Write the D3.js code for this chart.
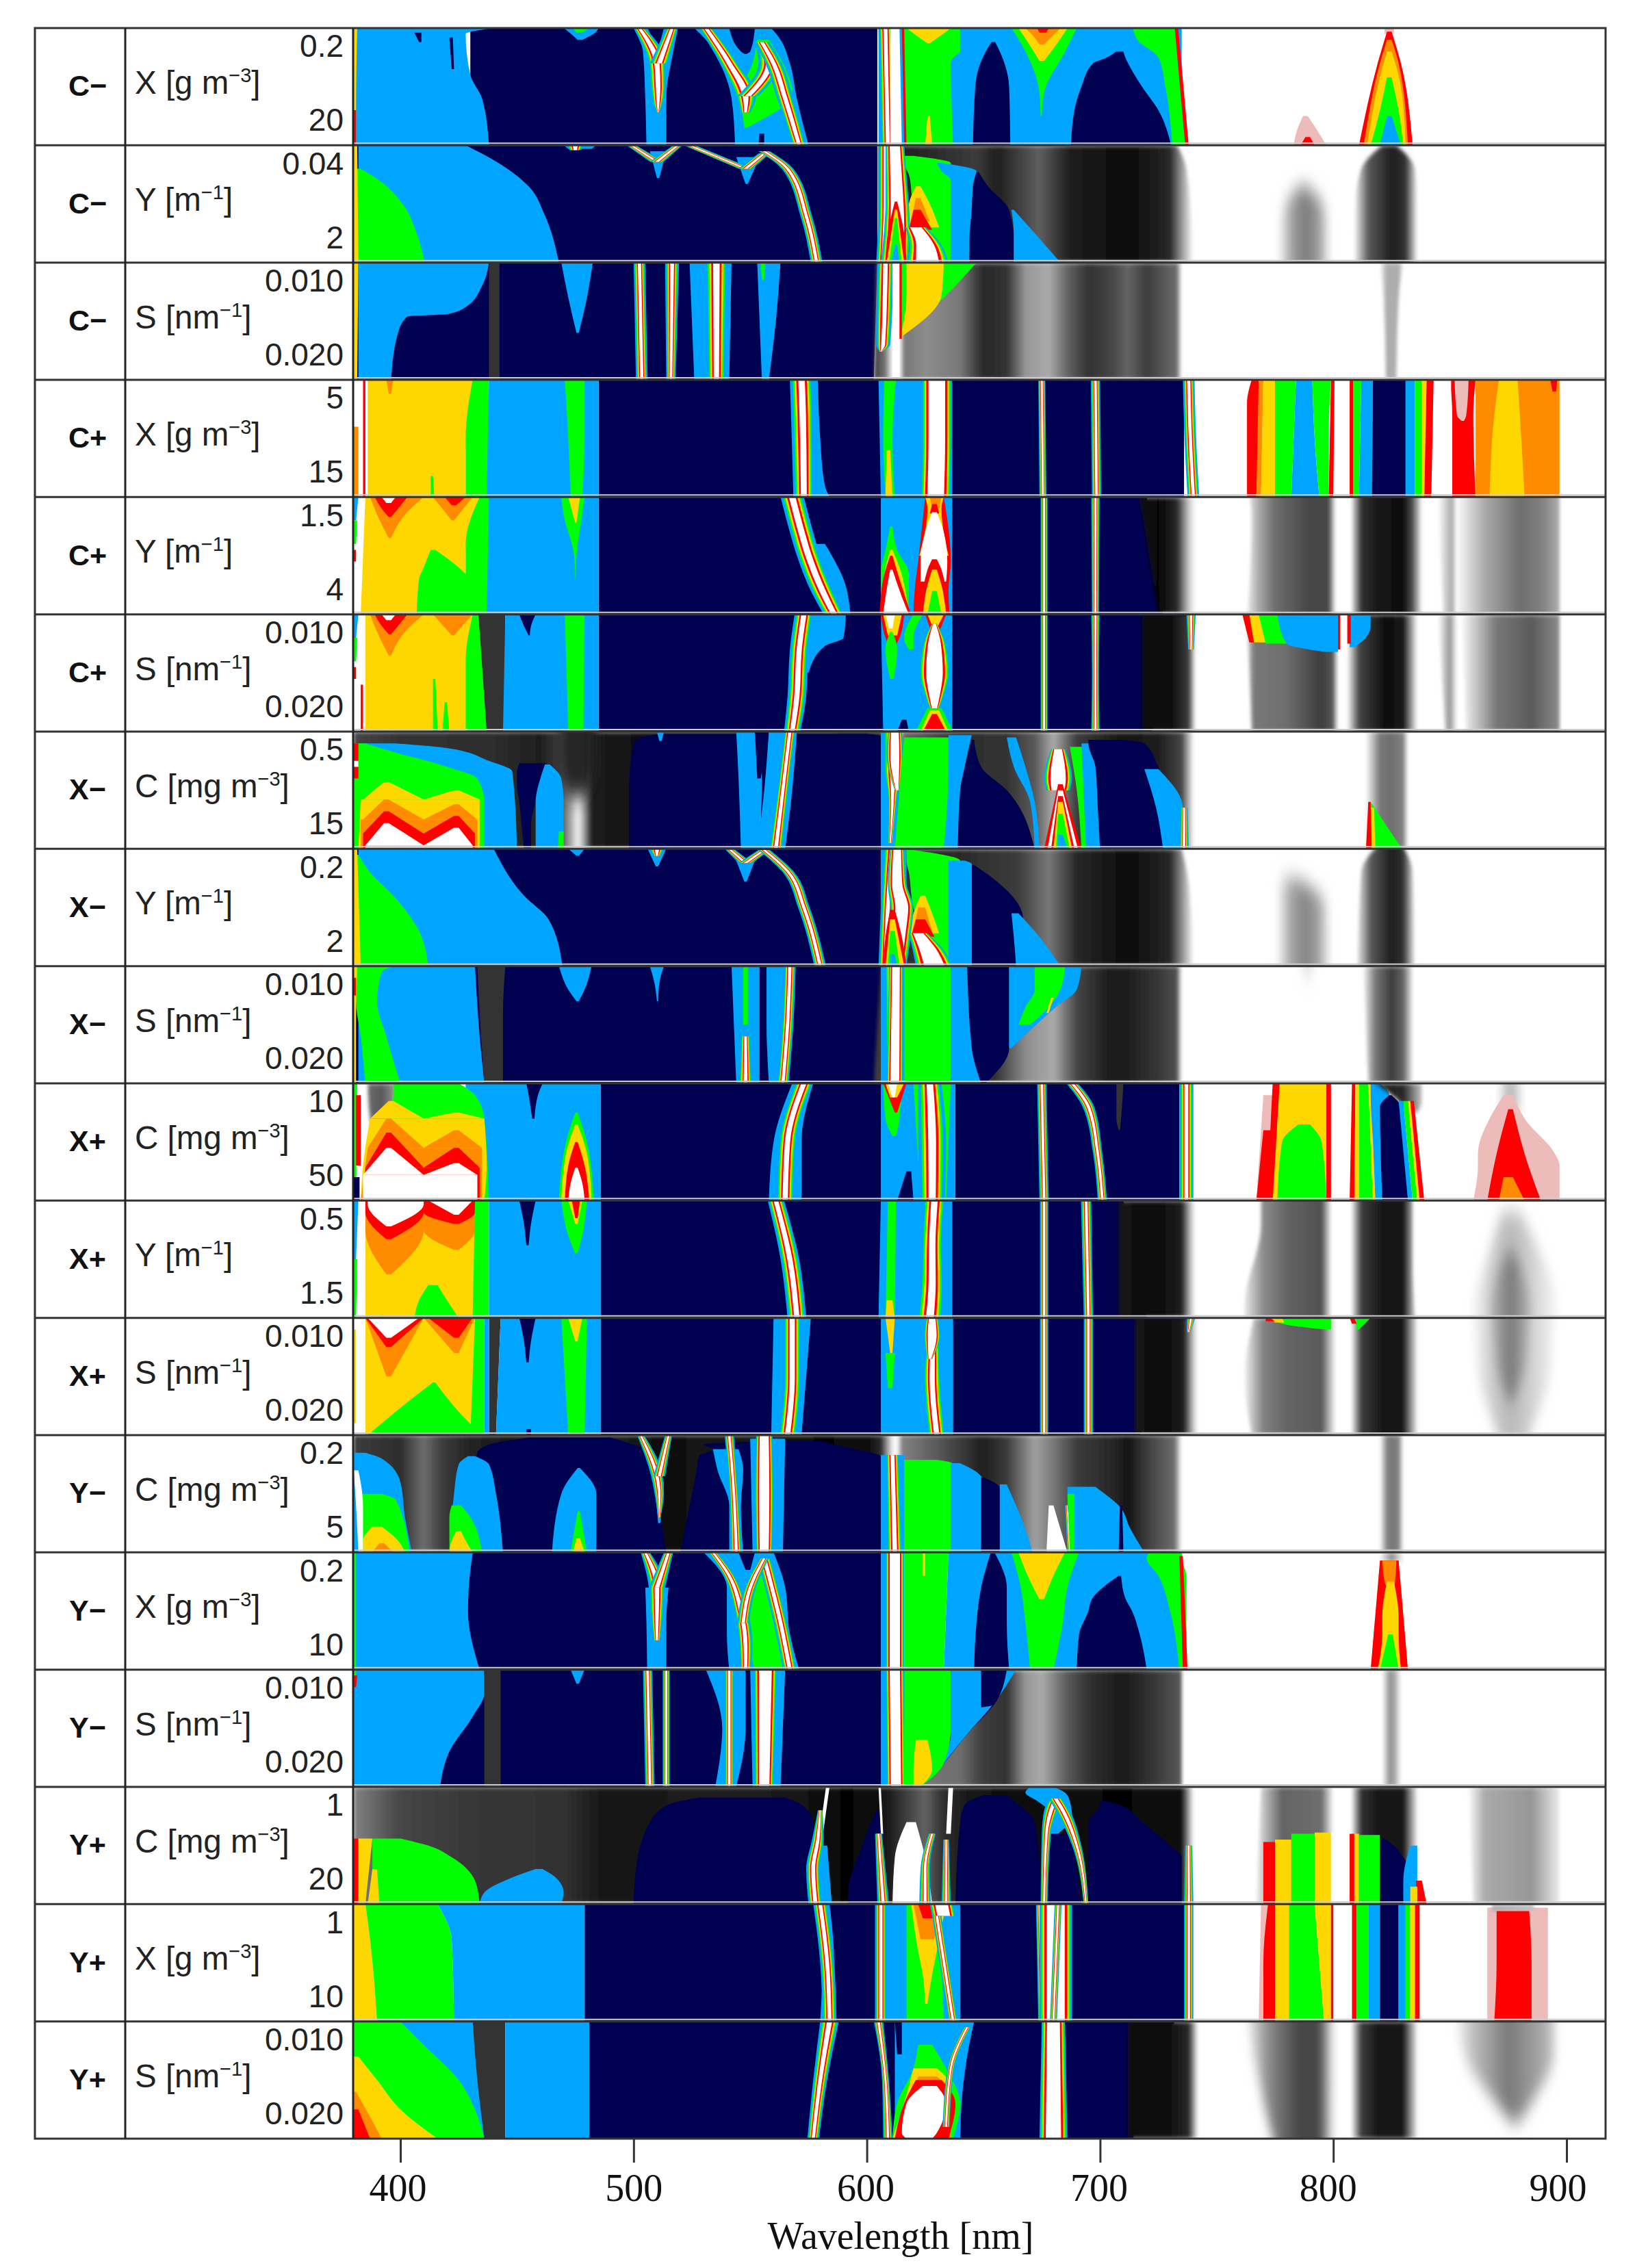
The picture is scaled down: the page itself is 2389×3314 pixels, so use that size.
<!DOCTYPE html>
<html>
<head>
<meta charset="utf-8">
<script src="https://cdnjs.cloudflare.com/ajax/libs/d3/7.8.5/d3.min.js"></script>
<style>
body { margin: 0; background: #fff; }
</style>
</head>
<body>
<div id="chart-section"></div>
<script>
// labels ----------------------------------------------------------------
var groupLabels = ["C−","C−","C−","C+","C+","C+","X−","X−","X−","X+","X+","X+","Y−","Y−","Y−","Y+","Y+","Y+"];
var varNames = ["X [g m","Y [m","S [nm","X [g m","Y [m","S [nm","C [mg m","Y [m","S [nm","C [mg m","Y [m","S [nm","C [mg m","X [g m","S [nm","C [mg m","X [g m","S [nm"];
var varPowers = ["−3","−1","−1","−3","−1","−1","−3","−1","−1","−3","−1","−1","−3","−3","−1","−3","−3","−1"];
var tickHigh = ["0.2","0.04","0.010","5","1.5","0.010","0.5","0.2","0.010","10","0.5","0.010","0.2","0.2","0.010","1","1","0.010"];
var tickLow = ["20","2","0.020","15","4","0.020","15","2","0.020","50","1.5","0.020","5","10","0.020","20","10","0.020"];
var wavelengthTicks = [400,500,600,700,800,900];
var tickLabelShift = [-4,0,-2,-2,-8,-13];

// band colours: n navy, b blue, g green, y gold, o orange, r red, w white, p pink, d dark grey
// rows are [t, wl left, wl right]; t runs 0..1 down the panel
// R and W are ridges, rows [t, wl centre, half width]; K and F are grey bands with [wl, grey] stops

var panelCmX = [
 ["n",[[0,430,604.5],[1,430,604.5]]],
 ["b",[[0,380,440],[.05,380,428],[.4,380,430],[.6,380,435],[1,380,438]]],
 ["n",[[.04,406,409],[.12,408,409]]],["n",[[.08,421,422.5],[.35,422,423]]],
 ["y",[[0,380,381.5],[.7,380,381],[1,380,381]]],["r",[[.7,380,381],[1,380,381]]],
 ["b",[[0,470,485],[.03,472,484],[.1,476,478]]],["g",[[0,474,481],[.04,475.5,478]]],
 ["b",[[0,500,519],[.2,504,517],[.6,505,514],[1,505.5,514]]],
 ["n",[[0,506,513],[.15,509.5,511]]],
 ["R",[[0,502.5,2.5],[.3,510,4],[.5,510.5,3.5],[.65,510.5,2],[.72,510.5,.4]]],
 ["R",[[0,516.5,2.5],[.3,511,4]]],
 ["b",[[0,526,559],[.1,531,563],[.3,537,567],[.6,542,570],[1,543.5,575]]],
 ["n",[[0,541,552],[.2,546,550],[.22,547.5,548.5]]],
 ["n",[[.9,554,556],[1,553.5,556]]],
 ["g",[[.1,553,558],[.3,551,564],[.55,546,568],[.85,547.5,548.5]]],
 ["R",[[0,531,3],[.3,541,4],[.58,548,4.5],[.72,548,2]]],
 ["R",[[.12,555,3],[.3,558,4.5],[.58,549,4.5]]],
 ["R",[[.12,555,3],[.3,560,3.5],[.6,565,3.5],[1,571,3]]],
 ["b",[[0,605,647],[1,605,645]]],
 ["g",[[0,616,655],[.1,616,648],[.3,616,636],[1,616,637]]],
 ["y",[[0,617,636],[.06,621,632],[.13,626,627]]],
 ["R",[[0,608,3],[1,609,3]]],
 ["w",[[0,610,614],[1,610,615]]],["r",[[0,615,616],[1,616,617]]],
 ["y",[[.75,626,627],[1,625,628]]],
 ["b",[[0,640,735],[1,640,735]]],
 ["n",[[.12,653.5,655],[.2,651,657],[.5,646.5,661],[1,645.5,661.5]]],
 ["g",[[0,662,690],[.2,668,685],[.55,674,676],[.75,674.5,675]]],
 ["y",[[0,665,686],[.12,669,682],[.28,674,676]]],
 ["o",[[0,668,683],[.06,671,680],[.14,674,676]]],
 ["r",[[0,673,678],[.04,674,677]]],
 ["n",[[.2,707,710],[.26,702,711],[.3,697,712],[.5,692,718],[.7,689,725],[1,687.5,730.5]]],
 ["g",[[0,714,732],[.1,716,733],[.25,725,734],[.5,728,735.5],[1,731,736.5]]],
 ["r",[[0,732,733.5],[1,736.5,738]]],
 ["p",[[.75,787,789],[.9,784,794],[1,783,797]]],["r",[[.93,788,790],[1,786,792]]],
 ["p",[[0,822,826],[.05,822,826]]],
 ["r",[[.03,823,825],[.3,819,829],[1,811,834]]],
 ["o",[[.1,823,825],[.3,820,828],[1,813,832]]],
 ["y",[[.2,823,825],[.5,819,829],[1,814.5,831]]],
 ["g",[[.42,823,825],[.7,820,828],[1,816,830]]],
 ["b",[[.75,823,825],[1,820,829]]]
];

var panelCmY = [
 ["n",[[0,380,604.5],[1,380,604.5]]],
 ["K",[[0,605,733],[.2,605,737],[1,605,740]],[[605,40],[615,30],[647,60],[656,30],[674,95],[687,30],[712,10],[730,40],[735,150],[740,255]]],
 ["b",[[0,382,428],[.15,382,442],[.35,382,455],[.6,382,462],[1,382,468]]],
 ["g",[[.2,380,383],[.3,380,391],[.5,380,401],[.75,380,407],[1,380,410.5]]],
 ["y",[[0,380,381.5],[1,380,382]]],
 ["b",[[0,470,484],[.03,472,482]]],["R",[[0,475,4],[.04,475,2.5]]],
 ["b",[[.05,507,514],[.28,510,511]]],
 ["R",[[0,499,2],[.14,510,3]]],["R",[[0,519,2],[.14,510,3]]],
 ["b",[[.1,544,554],[.33,548,549]]],
 ["R",[[0,524,2.5],[.2,548,3]]],["R",[[.07,556,2.5],[.2,548,3]]],
 ["R",[[.05,556,2.5],[.2,566,2.5],[.6,574,2.5],[1,578.5,2.5]]],
 ["b",[[.02,605,616],[1,605,617]]],
 ["g",[[.09,616,620],[.15,616,636],[.25,618,636.5],[.5,620,637],[.7,625,637],[1,634,637]]],
 ["b",[[.15,630,632],[.22,632,647],[.3,636,646],[1,636,644]]],
 ["n",[[.23,647,648],[.35,645.5,652],[.55,645,661],[.8,644,663],[1,644,663]]],
 ["b",[[.55,662,663],[.75,663,672],[1,663,683]]],
 ["y",[[.35,621,623],[.5,618,627],[.7,617,631]]],["o",[[.45,621,623],[.65,619,627]]],["r",[[.55,620,623],[.72,618,628]]],
 ["R",[[0,608,3],[.5,608,3],[1,607,3]]],
 ["W",[[0,612,4],[.25,612.5,4.5],[.5,613,5],[.7,613,5.5],[1,612,6]]],
 ["r",[[.48,612,613],[.75,609,616],[1,608,617]]],
 ["y",[[.55,612,613],[1,608.5,616]]],["g",[[.62,612,613],[1,609.5,615]]],["b",[[.85,612,613],[1,610.5,614]]],
 ["W",[[.7,621,4.5],[.85,625,7],[1,626,9]]],
 ["F",[[.35,786,788],[.5,779,796],[.7,777.5,798],[1.3,777.5,798]],[[777,250],[781,170],[788,120],[795,165],[798,250]]],
 ["K",[[0,821,827],[.2,812,835],[.5,809.5,836],[1.3,809,836]],[[809,245],[815,90],[825,30],[831,50],[836,245]]]
];

var panelCmS = [
 ["n",[[0,380,604.5],[1,380,603]]],
 ["K",[[0,604,735],[1,603,735]],[[603,60],[608,120],[611,250],[614,250],[616,120],[625,140],[640,120],[650,40],[660,50],[668,150],[678,170],[686,100],[695,50],[705,70],[712,100],[720,60],[728,90],[733,110],[735,255]]],
 ["b",[[0,382,438],[.2,382,435],[.38,382,428],[.44,382,420],[.46,382,403],[.6,382,399],[1,382,396]]],
 ["d",[[0,438,442.5],[1,438,442.5]]],
 ["y",[[0,380,382],[1,380,381.5]]],
 ["b",[[0,469,482.5],[.3,472,480],[.6,475.5,476.5]]],
 ["R",[[0,502.5,2.5],[1,503.5,2.5]]],["R",[[0,516.5,3],[1,516,2]]],
 ["b",[[0,524,542],[1,526,541]]],["R",[[0,535.5,5],[1,535.5,4]]],
 ["b",[[0,553,563],[.5,554,561],[1,555,558]]],["g",[[0,554.5,556.5],[.15,555,556]]],
 ["g",[[0,615,647],[.28,615,634],[.63,614,615]]],
 ["y",[[0,617,633],[.28,617,632],[.63,614.5,615]]],
 ["R",[[0,608,3.5],[.7,607,3],[.76,606,.5]]],
 ["w",[[0,611,614],[1,611,614]]],["r",[[0,614,615],[.65,614,615]]],
 ["K",[[0,820,830],[.3,821.5,828],[1,822.5,827]],[[820,250],[823,170],[825,175],[828,170],[830,250]]]
];

var panelCpX = [
 ["n",[[0,485,736],[1,485,736]]],
 ["r",[[0,384,385],[1,384,385]]],
 ["o",[[.4,380,382],[1,380,382]]],
 ["y",[[0,386,431],[.5,386,431],[.6,386,428],[1,386,428]]],
 ["o",[[0,394,397],[.12,395,396]]],
 ["g",[[.82,413,414],[1,413,414.5]]],
 ["g",[[0,431,438],[.5,428,438],[1,428,437]]],
 ["b",[[0,438,485],[1,437,485]]],
 ["g",[[0,470.5,479],[.5,472,479],[1,473,478]]],
 ["b",[[0,570,579],[.5,570,580],[.9,570,582],[1,570,584]]],
 ["R",[[0,572,5],[.3,572.5,5],[1,573,4.5]]],
 ["b",[[0,605,636.6],[1,606,636.6]]],
 ["g",[[0,607.5,612.5],[.5,607,611],[1,608,612]]],
 ["y",[[.6,608.5,610],[1,608,611]]],
 ["W",[[0,630,6.5],[.5,630,6.5],[1,629.5,6.5]]],
 ["R",[[0,675,1.5],[1,675.5,1.5]]],["R",[[0,698,2],[1,698.5,2]]],
 ["R",[[0,738,2.5],[.4,738.5,2.5],[1,740,2.5]]],
 ["r",[[0,765,768],[.2,763,768],[1,763,767]]],
 ["o",[[0,768,770],[1,767,769]]],["y",[[0,770,775],[1,769,775]]],
 ["g",[[0,775,784],[.5,775,783],[1,775,782]]],
 ["b",[[0,784,791],[.5,783,792],[1,782,794]]],
 ["g",[[0,791,799],[.5,792,798],[1,794,798]]],
 ["r",[[0,799,800.5],[1,798,800]]],
 ["r",[[0,807,808.5],[1,807,808.5]]],["g",[[0,808.5,812],[1,808.5,811]]],
 ["b",[[0,812,817],[1,811,816.5]]],
 ["n",[[0,817,831],[1,816.5,831]]],
 ["b",[[0,831,835],[1,831,835]]],["g",[[0,835,838],[1,835,838]]],["y",[[0,838,840],[1,838,839]]],["r",[[0,840,843],[1,839,842]]],
 ["r",[[0,850,861],[.3,851,860],[1,851,861]]],
 ["w",[[0,844,850.5],[1,843,850.5]]],
 ["p",[[0,852,858],[.3,853,857],[.35,855,856]]],
 ["o",[[0,861,897],[1,861,897]]],
 ["y",[[0,871,879],[.3,869,880],[1,867,882]]],
 ["r",[[0,893,896],[.1,894,895.5]]]
];

var panelCpY = [
 ["n",[[0,485,720],[1,485,727]]],
 ["K",[[0,717,742],[1,725,742]],[[717,20],[725,5],[733,40],[738,200],[741,255]]],
 ["b",[[0,380,382],[.2,380,381]]],["g",[[.2,380,381.5],[.4,380,381]]],["r",[[.45,380,381],[.55,380,381]]],
 ["y",[[0,385,434],[.5,384,428],[1,383,428]]],
 ["o",[[0,387,410],[.15,390,402],[.35,395,396]]],["r",[[0,389,403],[.1,392,399],[.17,395,396]]],["w",[[0,392,398],[.05,394,396]]],
 ["o",[[0,414,431],[.2,422,423]]],["r",[[0,419,428],[.07,422,424]]],
 ["g",[[.45,413,415],[.6,410,425],[.7,408,430],[1,407,435]]],
 ["g",[[0,434,438.5],[.4,428,438],[1,428,438]]],
 ["b",[[0,438,485],[1,437,485]]],
 ["g",[[0,469,479],[.15,470,478],[.5,474.5,475.5],[.7,475,475.2]]],["y",[[0,472,477],[.15,474,476],[.22,475,475.5]]],
 ["b",[[.4,574,582],[.5,576,585],[.7,580,590],[1,585,593]]],
 ["g",[[.6,578,581],[.8,583,586],[1,586,589]]],
 ["R",[[0,568,5],[.3,572,5],[.5,575,5],[.8,581,5],[1,586,4.5]]],
 ["b",[[0,606,636.6],[1,606,636.6]]],
 ["g",[[.25,610,611],[.45,608,613],[.65,606,618],[1,606,618]]],
 ["y",[[.45,610,611],[.6,608,614],[1,606,618]]],
 ["r",[[.5,610,611],[.7,607,614],[1,605.5,619]]],
 ["w",[[.62,610,611],[.85,608,615],[1,607,618]]],
 ["r",[[0,625,633],[.55,622,636],[.8,620.5,635],[1,620,635.5]]],
 ["y",[[0,625,633],[.1,626,632],[.5,622.5,635]]],
 ["o",[[0,627,632],[.1,628,631]]],["r",[[.06,628,630],[.14,627,631]]],
 ["w",[[.13,628,630],[.3,625,633],[.55,623,634.5],[.72,623,634]]],
 ["r",[[.53,628,630],[.62,626,632],[1,623,635]]],
 ["y",[[.62,628,630],[.75,626,632],[1,624,634]]],["g",[[.8,628,630],[1,626,632]]],
 ["R",[[0,676,1.5],[1,676,1.5]]],["R",[[0,698,1.8],[1,698,1.5]]],
 ["K",[[-.2,763,801],[.2,765,801],[1.3,762,801]],[[762,250],[768,170],[775,110],[790,70],[798,70],[801,250]]],
 ["K",[[-.2,808,838],[1.3,808,838]],[[808,220],[812,50],[820,20],[830,15],[834,80],[838,250]]],
 ["K",[[-.2,845,853],[.5,846,853],[1.3,848,853]],[[845,250],[851,170],[853,250]]],
 ["K",[[-.2,853,897],[1.3,853,897]],[[853,250],[865,170],[880,110],[890,130],[897,175]]]
];

var panelCpS = [
 ["n",[[0,485,739],[.3,485,738],[1,485,722]]],
 ["K",[[0,718,742],[1,718,742]],[[718,10],[730,10],[738,60],[741,255]]],
 ["b",[[0,380,382],[.2,380,381]]],["g",[[.2,380,381.5],[.4,380,381]]],["r",[[.45,380,381],[.55,380,381]]],
 ["r",[[.6,383,384],[1,383,384]]],
 ["y",[[0,385,433],[1,385,429]]],
 ["o",[[0,387,410],[.15,390,402],[.35,395,396]]],["r",[[0,389,403],[.1,392,399],[.17,395,396]]],["w",[[0,392,398],[.05,394,396]]],
 ["o",[[0,414,431],[.18,422,423]]],
 ["g",[[0,431,436],[.4,428,437],[1,428,438]]],
 ["g",[[.55,414,415],[1,414,416]]],["g",[[.75,419,420],[1,418,421]]],
 ["d",[[0,433.5,445],[1,437,445]]],
 ["b",[[0,445,485],[1,444,485]]],
 ["n",[[0,451,458],[.1,453,456],[.18,455,455.5]]],
 ["g",[[0,470.5,479],[1,472,478.5]]],
 ["b",[[0,570,591],[.2,570,590],[.27,570,582],[.5,570,575]]],
 ["R",[[0,573,4],[.3,571,4],[.7,570,4],[1,568,3.5]]],
 ["b",[[0,606,636.6],[1,607,636.6]]],
 ["r",[[0,606,616],[.2,608,614],[.3,610,611]]],["y",[[0,607,615],[.18,609,613]]],
 ["w",[[0,608,612],[.12,609.5,611]]],
 ["g",[[.15,610,611],[.3,608,613],[.55,610,611.5]]],
 ["n",[[.9,615,617],[1,613,618]]],
 ["g",[[0,620,624],[.2,616,620],[.3,618,620]]],
 ["r",[[0,625,634],[.2,628.5,630]]],["y",[[0,626,633],[.12,628.5,630]]],
 ["W",[[.08,629,1],[.25,629,5],[.5,629,6.5],[.7,629,4],[.85,629,1]]],
 ["g",[[.8,626,632],[1,621,637]]],["y",[[.82,627,631],[1,623,635]]],["r",[[.85,628,630],[1,624,634]]],
 ["R",[[0,676,1.5],[1,676,1.5]]],["R",[[0,698,1.8],[.5,698,1.5],[1,698,1.8]]],
 ["R",[[0,739,2],[.3,739,1.2]]],
 ["K",[[0,763,802],[1,765,802]],[[762,250],[766,120],[780,110],[795,60],[800,90],[802,250]]],
 ["K",[[0,806,836],[1,806,836]],[[806,250],[811,70],[822,15],[830,20],[836,250]]],
 ["K",[[0,845,853],[1,848,853]],[[845,250],[850,150],[853,250]]],
 ["K",[[0,855,897],[1,857,897]],[[855,250],[870,120],[885,90],[897,140]]],
 ["r",[[0,761,765],[.24,764,768]]],["y",[[0,764,771],[.24,766,773]]],["g",[[0,768,777],[.25,771,780]]],
 ["b",[[0,776,802],[.25,780,802],[.32,796,802]]],
 ["w",[[0,802,806],[.35,802,806]]],
 ["r",[[0,802,803],[.3,802,803]]],
 ["b",[[0,807,816],[.1,807,816],[.22,807,813],[.28,807,809]]],["r",[[0,806,807.5],[.25,806,807.5]]]
];

var panelXmC = [
 ["K",[[0,380,740],[1,380,740]],[[380,70],[400,50],[440,45],[460,30],[468,60],[474,190],[476,240],[478,190],[482,30],[495,20],[510,10],[560,10],[600,5],[606,30],[611,200],[613,240],[616,100],[640,45],[660,50],[672,90],[680,170],[690,60],[710,20],[725,30],[735,70],[740,250]]],
 ["F",[[-.3,468,484],[.3,468,484],[.55,472,480]],[[468,40],[476,40],[484,30]]],
 ["n",[[.02,512,600],[.04,505,606],[.1,500,606],[.5,498,606],[1,498,606]]],
 ["b",[[.1,382,398],[.14,382,420],[.25,382,438],[.34,382,448],[1,382,450]]],
 ["g",[[.1,380,385],[.15,380,393],[.3,380,420],[.4,380,433],[.6,380,436],[1,380,436]]],
 // wave: left lump, right lump, body for each level
 ["y",[[.43,393,395],[.58,384,410]]],["y",[[.5,423,425],[.58,410,434]]],["y",[[.58,383,434],[1,382,434]]],
 ["o",[[.58,393,395],[.75,384,410]]],["o",[[.62,423,425],[.75,410,433]]],["o",[[.75,383,433],[1,383,433]]],
 ["r",[[.68,393,395],[.87,384,410]]],["r",[[.72,423,425],[.87,410,432]]],["r",[[.87,384,432],[1,384,432]]],
 ["w",[[.78,393,395],[.97,385,410]]],["w",[[.82,423,425],[.97,410,431]]],["w",[[.97,385,431],[1,385,431]]],
 ["r",[[.1,380,382],[.4,380,382]]],["w",[[.25,380,382],[.3,380,382]]],
 ["n",[[.27,451,462],[.35,450,465],[.45,450,460],[.6,451,458],[.8,452,456],[1,453,456]]],
 ["b",[[.28,462,464],[.4,460,469],[.6,458,470],[1,458,470]]],
 ["g",[[.85,468,470],[1,467.5,470]]],
 ["b",[[0,510,513],[.08,511,512]]],
 ["b",[[0,544,554],[.4,545,555],[1,546,554]]],
 ["n",[[0,552,558],[.4,553,554.5]]],
 ["b",[[0,558,570],[.5,556,568],[1,553,565]]],
 ["R",[[0,567,2.5],[.5,564,2.5],[1,561,3]]],
 ["b",[[0,606,612],[1,606,616]]],
 ["R",[[0,611,4],[.3,611,4],[.6,611,2],[.95,610,1]]],
 ["W",[[0,612,3],[.2,612,3.5],[.5,613,1]]],
 ["g",[[.05,616,635],[.5,614,635],[1,612,633]]],
 ["b",[[.03,635,645],[.3,635,642],[1,633,639]]],
 ["n",[[.07,645,646],[.3,642,649],[.5,640,660],[1,639,672]]],
 ["b",[[.05,660,664],[.3,663,668],[.6,670,672],[1,672,674]]],
 ["W",[[.15,682,3],[.4,682,6],[.5,682,5]]],
 ["r",[[.45,682,684],[1,676,692]]],["w",[[.5,682,684],[1,677.5,690.5]]],
 ["r",[[.55,682,684],[1,679,689]]],["y",[[.6,682,684],[1,680,688]]],["g",[[.7,682,684],[1,681,687]]],["b",[[.88,682,684],[1,682,686]]],
 ["g",[[.13,687,695],[.5,690,695],[1,692,695]]],
 ["b",[[.1,692,700],[1,694,700]]],
 ["n",[[.07,695,710],[.1,695,719],[.3,698,725],[.65,699,734],[1,700,727]]],
 ["b",[[.32,719,725],[.65,724,735.5],[1,727,735.5]]],
 ["R",[[.65,736,1.5],[1,736,2]]],
 ["K",[[0,814,832],[1,814,832]],[[814,250],[820,120],[825,110],[830,130],[832,250]]],
 ["g",[[.6,815,816],[1,816,829.5]]],["y",[[.65,816,817.5],[1,816.5,818]]],["r",[[.6,815,816],[1,814,816.5]]]
];

var panelXmY = [
 ["n",[[0,380,606],[1,380,606]]],
 ["K",[[0,606,735],[.3,606,738],[1,606,740]],[[606,50],[640,40],[650,50],[665,60],[678,120],[690,40],[712,10],[730,40],[735,140],[740,250]]],
 ["b",[[0,382,440],[.4,382,453],[.6,382,463.5],[1,382,469.5]]],
 ["g",[[.05,380,382],[.2,380,387],[.4,380,397],[.7,380,408],[1,380,412]]],
 ["y",[[0,380,381.5],[1,380,383]]],
 ["b",[[0,472,479],[.06,475.5,476.5]]],
 ["b",[[0,506,514],[.15,509.5,510.5]]],["R",[[0,510,3.5],[.06,510,1.5]]],
 ["b",[[.1,544,552],[.28,547.5,548.5]]],
 ["R",[[0,541,2],[.12,548,3]]],["R",[[.01,556,2.5],[.12,548,3]]],
 ["R",[[.01,556,2.5],[.2,566.4,2.5],[.5,573,2.5],[1,580,2.5]]],
 ["b",[[0,606,617],[1,606,617]]],
 ["g",[[.01,617,620],[.1,617,640],[.2,618,640],[.5,620,637],[.9,632,636],[1,634,636]]],
 ["b",[[.1,635,642],[.13,635,645],[1,635,645]]],
 ["n",[[.14,645,646],[.25,645,654],[.6,645,667],[1,645,664]]],
 ["b",[[.55,662,665],[.75,663,674],[1,664,683]]],
 ["y",[[.4,623,625],[.55,620,628],[.72,618,631]]],["o",[[.5,622,625],[.7,620,628]]],["r",[[.6,621,625],[.75,619,629]]],
 ["R",[[0,611,4],[.5,609,3],[1,608,3]]],
 ["W",[[0,613,3],[.3,613,4],[.5,615,5],[.7,614,5],[1,612,5]]],
 ["r",[[.52,610,612],[.75,608,615],[1,607,617]]],["y",[[.6,610,612],[1,608,616]]],["g",[[.7,610,612],[1,609,614]]],["b",[[.9,610,612],[1,610,613]]],
 ["W",[[.72,622,4],[.85,626,6.5],[1,629,8]]],
 ["F",[[.25,777,784],[.5,777,798],[1.3,777,798]],[[776,250],[781,170],[788,130],[795,170],[798,250]]],
 ["K",[[-.05,820,829],[.2,812,834],[1.3,810,835]],[[810,240],[816,90],[825,30],[830,50],[835,240]]]
];

var panelXmS = [
 ["n",[[0,380,606],[1,380,606]]],
 ["K",[[0,606,735],[1,603,735]],[[603,60],[640,60],[655,50],[668,140],[680,170],[690,70],[705,25],[712,30],[725,55],[733,80],[735,250]]],
 ["b",[[0,382,432],[.6,382,434],[1,382,436]]],
 ["g",[[0,380,397],[.05,381,392],[.3,381,390],[.6,383,394],[1,385,400]]],
 ["y",[[0,380,381.5],[.5,380,381],[1,380,381]]],["r",[[.1,380,381],[.25,380,381]]],
 ["d",[[0,433,445],[.4,434,444],[1,436,444]]],
 ["b",[[0,468,482],[.2,472,479],[.3,475.5,476.5]]],
 ["b",[[0,507,513],[.15,509,511],[.3,510,510.5]]],
 ["b",[[0,542,554],[1,544,554]]],["g",[[0,547,549],[.5,547,549]]],["R",[[.6,548,2],[1,548,3]]],
 ["b",[[0,557,568],[.5,557,568],[1,558,566]]],
 ["R",[[0,567,2.5],[.5,566,2.5],[1,564,2.5]]],
 ["b",[[0,606,616],[1,606,616]]],
 ["R",[[0,611,3.5],[1,611.5,3.5]]],
 ["W",[[0,612.5,3],[1,612,3.5]]],
 ["g",[[0,616,636],[1,616,636]]],
 ["b",[[0,636,650],[1,636,650]]],
 ["n",[[0,643,661],[.7,645,661],[1,649,651]]],
 ["b",[[0,661,692],[.2,661,690],[.35,661,681],[.7,661,662]]],
 ["g",[[0,672,685],[.2,672,683],[.35,668,678],[.5,665,670]]],
 ["y",[[.27,679,680],[.4,677,678]]],
 ["F",[[-.2,785,793],[.1,788,790]],[[785,250],[789,210],[793,250]]],
 ["K",[[0,813,834],[.5,814,834],[1,815,834]],[[813,240],[818,120],[825,60],[830,100],[834,240]]]
];

var panelXpC = [
 ["n",[[0,483,734],[1,483,734]]],
 ["K",[[0,386,398],[.3,387,396],[.5,389,391]],[[385,110],[392,90],[397,140]]],
 ["b",[[0,428,486],[1,428,486]]],
 ["g",[[0,397,425],[.1,397,432],[.3,395,436],[1,395,438]]],
 ["y",[[.15,395,397],[.3,387,410]]],["y",[[.25,423,425],[.3,410,436]]],["y",[[.3,387,436],[.7,384,437],[1,383,436]]],
 ["o",[[.3,394,396],[.55,386,410]]],["o",[[.4,423,425],[.55,410,435]]],["o",[[.55,386,435],[1,383,435]]],
 ["r",[[.42,394,396],[.72,385,410]]],["r",[[.55,423,425],[.72,410,434]]],["r",[[.72,385,434],[1,384,434]]],
 ["w",[[.55,394,396],[.78,384,410]]],["w",[[.68,423,425],[.78,410,433]]],["w",[[.78,384,433],[1,384,433]]],
 ["g",[[0,380,381.5],[1,380,381]]],["r",[[.1,381,383],[.7,381,383]]],["n",[[.8,380,382.5],[1,380,382.5]]],
 ["n",[[0,454,461],[.1,455,459],[.3,456.5,457.5]]],
 ["g",[[.25,475,476],[.5,471,480],[1,468,483]]],
 ["y",[[.35,475,476],[.6,471,480],[1,469,482]]],
 ["r",[[.5,475,476],[.7,472,479],[1,470.5,481]]],
 ["w",[[.72,475,476],[.85,473,478],[1,472,479]]],
 ["b",[[0,568,577],[.5,560,572],[1,558,572]]],
 ["R",[[0,573,4],[.5,566,4],[1,565,4]]],
 ["b",[[0,606,638],[1,606,638]]],
 ["g",[[0,607,615],[.3,608,614],[.45,611,612.5]]],
 ["r",[[0,607,617],[.25,612,613]]],["y",[[0,608,616],[.12,610,613]]],["w",[[0,609,613],[.12,611,612]]],
 ["n",[[.75,617,619],[1,613,620]]],
 ["g",[[0,620,636],[1,623,634]]],
 ["R",[[0,627,5],[.5,628,6],[1,628,5.5]]],
 ["R",[[0,675,2],[1,676,2]]],
 ["R",[[0,688,2.5],[.2,695,2.5],[.6,699,2],[1,701,2]]],
 ["d",[[0,707,710],[.3,707,709],[.4,708,708.5]]],
 ["R",[[0,737,3],[1,737,3]]],
 ["p",[[.1,770,777],[.4,769,775],[.7,768,775],[1,767,774]]],
 ["r",[[.4,770,775],[1,767,774]]],
 ["r",[[0,774,778],[.4,773,776],[1,772,776]]],
 ["y",[[0,777,798],[1,774,798]]],
 ["g",[[.35,785,790],[.5,778,795],[1,776,797]]],
 ["r",[[0,797,799],[1,797,799]]],
 ["r",[[0,808,809.5],[1,807,809]]],["y",[[0,809.5,811],[1,809,811]]],["g",[[0,811,815],[1,811,817]]],["y",[[0,815,816],[1,817,818]]],
 ["b",[[0,816,820],[.1,816,824],[.5,817,822],[1,818,821]]],
 ["n",[[.1,824,825],[.2,820,829],[1,821,832]]],
 ["K",[[0,818,838],[.15,828,838],[.25,832,836]],[[820,30],[830,40],[838,200]]],
 ["b",[[.15,828,830],[1,832,834]]],["g",[[.15,830,832],[1,834,836]]],["y",[[.15,832,833],[1,836,837]]],["r",[[.15,833,834.5],[1,837,839]]],
 ["F",[[-.1,872,880],[.3,872,880]],[[870,250],[876,170],[882,250]]],
 ["p",[[.1,873,877],[.3,867,882],[.6,862,895],[.7,862,897],[1,860,897]]],
 ["r",[[.22,875,877],[.6,870,882],[1,866,889]]],
 ["o",[[.8,873,877],[1,871,882]]]
];

var panelXpY = [
 ["n",[[0,486,710],[1,486,720]]],
 ["K",[[0,708,742],[1,708,742]],[[708,20],[725,12],[735,30],[739,200],[741,255]]],
 ["y",[[0,385,434],[1,385,432]]],
 // orange, red, white hang down from the top edge in two lumps
 ["o",[[0,385,410],[.25,385,410],[.63,394,396]]],["o",[[0,410,432],[.25,410,432],[.42,423,425]]],
 ["r",[[0,385,410],[.1,385,410],[.33,394,396]]],["r",[[0,410,432],[.1,410,432],[.2,423,425]]],
 ["w",[[0,386,410],[.03,386,410],[.22,394,396]]],["w",[[0,412,431],[.12,423,425]]],
 ["g",[[.72,412,416],[.85,408,420],[1,406,425]]],
 ["g",[[0,432,438],[1,431,438]]],
 ["b",[[0,380,382],[.5,380,381]]],["g",[[.5,380,381.5],[1,380,381]]],
 ["b",[[0,438,486],[1,438,486]]],
 ["n",[[0,451,458],[.2,453,456],[.38,454,455]]],
 ["g",[[0,469,480],[.3,472,478],[.45,475,476]]],["y",[[0,472,478],[.2,475,476]]],["r",[[0,473.5,477],[.15,475,476]]],
 ["R",[[0,561,3.5],[.5,567,4],[1,570,4]]],
 ["b",[[0,606,636.6],[1,605,636.6]]],
 ["g",[[0,609,612.5],[1,608,612]]],["y",[[.85,608.5,611],[1,608,612]]],
 ["R",[[0,629,5],[.4,628,5],[.7,628,5.5],[1,627,6]]],
 ["R",[[0,676,1.8],[1,676,1.8]]],["R",[[0,694,2.2],[1,695,2]]],
 ["K",[[-.2,769,799],[.2,769,799],[.9,762,799],[1.3,762,799]],[[762,230],[770,140],[780,100],[795,80],[799,240]]],
 ["K",[[-.2,808,834],[.5,808,834],[1.3,808,836]],[[808,230],[812,60],[822,20],[830,20],[836,240]]],
 ["F",[[.1,872,880],[.5,866,890],[.9,860,896],[1.25,860,896]],[[859,250],[868,205],[876,185],[884,205],[897,250]]],
 ["F",[[.45,874,878],[.9,868,884],[1.2,868,884]],[[866,190],[876,120],[886,190]]]
];

var panelXpS = [
 ["n",[[0,486,739],[1,486,717]]],
 ["K",[[0,715,742],[1,715,742]],[[715,20],[728,12],[736,30],[740,200],[742,255]]],
 ["y",[[0,385,434],[1,385,430]]],
 ["o",[[0,385,410],[.5,394,396]]],["o",[[0,410,432],[.3,423,425]]],
 ["r",[[0,385,410],[.25,394,396]]],["r",[[0,412,431],[.17,423,425]]],
 ["w",[[0,386,408],[.17,394,396]]],
 ["g",[[.55,414,415],[.8,398,425],[1,386,435]]],
 ["g",[[0,432,436],[1,430,436]]],
 ["d",[[0,438,443],[1,438,441]]],
 ["b",[[0,436,438],[1,436,438]]],["y",[[.1,380,381],[.9,380,381]]],
 ["b",[[0,443,486],[1,441,486]]],
 ["n",[[0,451,458],[.2,453,456],[.38,454,455]]],["n",[[.95,454,456],[1,454,456]]],
 ["g",[[0,469,480],[1,472,479]]],["y",[[0,472,478],[.2,475,476]]],
 ["b",[[0,560,576],[1,559,572]]],
 ["R",[[0,568,4],[.5,568,4],[1,566,4]]],
 ["b",[[0,606,637],[1,606,637]]],
 ["y",[[0,608,612],[.3,610,611]]],["g",[[.3,608,612],[.6,609,611]]],
 ["R",[[0,629,2],[.5,628,4],[1,630,4]]],
 ["W",[[0,628,2.5],[.15,628,3.5],[.35,627,1]]],
 ["R",[[0,676,1.8],[1,676,1.8]]],["R",[[0,695,2],[1,695,2]]],
 ["K",[[0,766,801],[.5,762,801],[1,765,801]],[[762,240],[770,130],[780,100],[795,90],[801,250]]],
 ["K",[[-.1,808,836],[1.2,808,836]],[[808,230],[812,60],[822,20],[830,25],[836,240]]],
 ["F",[[-.3,860,895],[.5,862,893],[.8,867,888],[1.1,872,882]],[[859,250],[868,205],[876,185],[884,205],[897,250]]],
 ["F",[[-.3,868,884],[.4,870,882],[.7,875,877]],[[866,190],[876,120],[886,190]]],
 ["R",[[0,739,1.8],[.12,738,.8]]],
 ["g",[[0,774,799],[.05,778,799],[.1,797,799]]],["y",[[0,772,778],[.04,775,779]]],["r",[[0,771,773],[.03,771,775]]],
 ["r",[[0,807,809],[.05,808,810]]],["g",[[0,810,816],[.1,810,811]]]
];

var panelYmC = [
 ["K",[[0,380,735],[1,380,735]],[[380,60],[400,45],[410,110],[418,60],[430,35],[450,20],[480,30],[500,25],[515,10],[530,25],[560,15],[580,5],[600,10],[606,40],[611,240],[613,255],[615,130],[630,90],[650,30],[660,60],[672,160],[680,120],[690,60],[705,40],[712,20],[722,70],[732,110],[735,255]]],
 ["n",[[.02,455,490],[.08,438,500],[.15,433,508],[.6,430,511],[1,430,514]]],
 ["b",[[.15,380,385],[.2,380,392],[.4,380,400],[.7,380,402],[1,380,405]]],
 ["g",[[.5,382,392],[.55,382,398],[1,384,404]]],
 ["y",[[.78,388,392],[.9,384,399],[1,384,402]]],["o",[[.92,391,393],[1,388,397]]],
 ["w",[[.3,380,382],[.6,381,384],[1,382,384]]],
 ["b",[[.18,429,432],[.25,425,438],[.5,423,441],[1,421,444]]],
 ["g",[[.6,422,426],[.7,421,430],[1,421,435]]],["y",[[.82,424,426],[.9,422,428],[1,421,431]]],
 ["b",[[.28,476,477],[.5,469,484],[1,465,484]]],
 ["g",[[.65,476,477],[1,473,480]]],["y",[[.88,475.5,477],[1,474,479]]],
 ["b",[[.4,509,513],[.75,510.5,511.5]]],
 ["R",[[0,503,1.5],[.35,510,2.5],[.5,511,2],[.7,511,.5]]],["R",[[0,515,1.5],[.35,511,2.5]]],
 ["n",[[.05,560,580],[.08,530,586],[.12,534,595],[.18,528,606],[.3,527,606],[.6,524,606],[1,520,606]]],
 ["b",[[.12,534,545],[.3,536,547],[.6,541,546],[1,541,547]]],
 ["b",[[.03,550,565],[1,551,564]]],
 ["R",[[0,541,2],[.5,543,2],[1,544,2.5]]],
 ["W",[[0,556,3.5],[.5,556,4],[1,556,3.5]]],
 ["b",[[.17,606,616],[1,606,616]]],
 ["R",[[.17,611,3],[1,612,3.5]]],
 ["g",[[.21,616,630],[.24,616,636.6],[1,616,636.6]]],
 ["b",[[.24,636,640],[.33,636,648],[.4,636,650],[1,636,649]]],
 ["n",[[.36,649,650],[.45,649,657],[1,649,657]]],
 ["b",[[.42,657,660],[.6,657,664],[.8,657,668],[1,657,671]]],
 ["w",[[.6,678,680],[1,677,686]]],
 ["R",[[.6,686,1],[1,687,1]]],
 ["b",[[.44,686,698],[.5,686,702],[.6,686,708],[.8,688,713],[1,689,719]]],
 ["g",[[.5,686,689],[1,687,689]]],["n",[[.6,708.5,709.5],[1,708,710]]],
 ["K",[[0,820,830],[1,820,830]],[[820,250],[823,130],[825,120],[828,130],[830,250]]]
];

var panelYmX = [
 ["n",[[0,425,606],[1,425,606]]],
 ["b",[[0,380,435],[.01,380,431],[.5,380,429],[1,380,434]]],
 ["g",[[0,380,381],[1,380,381]]],
 ["b",[[.3,505,515],[.6,505.5,514],[1,505.8,514]]],
 ["R",[[0,505,2],[.3,510,3.5],[.5,510,3],[.75,510,1.5]]],["R",[[0,515,2],[.3,510,3.5]]],
 ["b",[[0,530,560],[.3,540,565],[.7,540,567],[1,541,571]]],
 ["n",[[0,545,552],[.15,548,550]]],
 ["g",[[.2,551,558],[.6,548,563],[1,552,564]]],
 ["R",[[0,534,2],[.2,541,2.5],[.5,546,3],[.8,548,3],[1,548,2.5]]],
 ["R",[[.05,556,3],[.2,558,3],[.6,563,3],[1,567,3]]],
 ["R",[[.05,556,2],[.3,550,2.5],[.6,547,2.5]]],
 ["b",[[0,606,616],[1,606,616]]],
 ["W",[[0,612,4],[1,612,4]]],
 ["g",[[0,616,635],[1,616,633]]],["y",[[0,624,625],[.2,624,625]]],
 ["b",[[0,635,735],[1,633,736]]],
 ["n",[[.01,653,655],[.3,649,660],[.6,647,660],[1,646,661]]],
 ["g",[[0,662,691],[.3,666,686],[.6,668,684],[1,670,680]]],
 ["y",[[0,665,685],[.2,669,680],[.4,674,676]]],
 ["n",[[.2,708,709],[.4,696.5,711],[.5,695,713.7],[.7,691,717],[1,690,720]]],
 ["g",[[0,721,735],[.05,720,735],[.2,725,737],[.5,730,737],[1,734,737]]],
 ["r",[[.03,734,735.5],[1,735.5,737.5]]],
 ["K",[[0,820,830],[.08,820,830]],[[820,250],[825,140],[830,250]]],
 ["r",[[.07,820,828],[.3,819,829],[1,816,832]]],
 ["o",[[.07,821,827],[.25,822,826.5],[.3,823,826]]],
 ["y",[[.25,823,826],[.55,821,828],[.7,821,828],[1,819,829]]],
 ["g",[[.7,823.5,825.5],[1,820,828]]]
];

var panelYmS = [
 ["n",[[0,410,606],[1,410,606]]],
 ["K",[[0,640,735],[1,620,735]],[[620,120],[640,110],[650,60],[660,50],[668,150],[675,170],[686,90],[695,50],[710,25],[725,60],[735,90]]],
 ["n",[[0,600,660],[.3,600,654.5],[.55,600,643],[.8,600,633],[1,600,623]]],
 ["b",[[0,380,436],[.2,380,436],[.4,380,431],[.7,380,421],[1,380,417]]],
 ["g",[[0,380,381],[.1,380,381]]],["r",[[.05,380,381.5],[.15,380,381]]],
 ["d",[[0,436,443],[1,436,443]]],
 ["b",[[0,473,479],[.12,475.5,476.5]]],
 ["R",[[0,506,2],[1,507,2]]],["R",[[0,514,1.5],[1,514,1.5]]],
 ["b",[[0,531,548],[.5,538,548],[1,535,544]]],
 ["R",[[0,541,2],[1,541,2]]],
 ["b",[[0,550,565],[1,551,563]]],
 ["W",[[0,556.5,5],[1,556,4]]],
 ["b",[[0,606,616],[1,606,616]]],
 ["W",[[0,612,4],[1,612.5,4]]],
 ["b",[[0,636,664],[.3,636,654],[.55,636,643],[.8,632,633]]],
 ["n",[[0,649,660],[.3,649,654.5],[.32,649,650]]],
 ["g",[[0,616,636],[.5,616,636],[.8,616,633],[1,616,623]]],
 ["y",[[.6,621,626],[.85,620,628],[1,620,623]]],
 ["K",[[0,821,829],[1,821,829]],[[821,250],[824,150],[826,160],[829,250]]]
];

var panelYpC = [
 ["K",[[0,380,740],[1,380,740]],[[380,130],[400,70],[430,55],[470,50],[485,25],[510,25],[550,30],[580,15],[590,5],[604,10],[610,30],[625,100],[632,50],[645,20],[680,10],[710,5],[735,15],[740,250]]],
 ["n",[[.09,528,565],[.15,515,572],[.3,507,577],[.7,501,578],[1,500,578]]],
 ["g",[[.44,388,400],[.5,388,412],[.6,388,422],[.8,388,432],[1,388,434]]],
 ["r",[[.44,380,382],[1,380,382]]],
 ["y",[[.44,382,388],[1,382,385]]],
 ["y",[[.7,388,390],[1,386,391]]],
 ["b",[[.7,458,461],[.78,447,467],[.9,436,470],[1,434,469]]],
 ["w",[[0,582.5,584],[.5,579,580.5]]],
 ["b",[[.5,579,583],[1,575,585]]],
 ["R",[[.2,580,1],[.45,579,2.5],[.7,577,3],[1,578,3]]],
 ["n",[[.2,604,606],[.5,598,606],[.9,592,605],[1,592,605]]],
 ["w",[[0,605,606],[.4,606,607]]],
 ["R",[[.4,605,1.5],[1,607,2.5]]],
 ["w",[[.3,617,621],[.6,612,625],[1,611,628]]],
 ["R",[[.4,628,1.5],[.7,625,2],[1,625,2.5]]],
 ["w",[[0,635,637],[.4,634,636]]],
 ["R",[[.45,634,1.2],[1,634,2]]],
 ["n",[[.07,650,660],[.15,642,665],[.3,640,672],[1,638,675]]],
 ["b",[[0,670,680],[.05,668,685],[.12,673,687],[.25,680,688],[.4,678,682]]],
 ["n",[[.12,700,702],[.15,700,708],[.3,695,718],[.5,695,730],[.6,695,735],[1,695,735]]],
 ["n",[[.4,678,688],[1,678,692]]],
 ["R",[[.1,681,3],[.2,679,3],[.4,677,2],[1,676,1.5]]],
 ["R",[[.1,681,3],[.2,684,3],[.5,690,2],[1,694,1]]],
 ["R",[[.5,738,1.5],[1,738,2]]],
 ["K",[[0,769,800],[1,767,800]],[[767,240],[772,170],[778,100],[795,110],[800,250]]],
 ["K",[[0,808,836],[.5,808,836],[1,808,836]],[[808,230],[812,50],[820,20],[830,20],[836,240]]],
 ["K",[[0,858,897],[1,860,897]],[[858,250],[865,170],[885,150],[897,235]]],
 ["n",[[.42,816,820],[.5,818,826],[.6,820,830],[.8,820,835.5],[1,820,838]]],
 ["r",[[.47,770,775],[1,770,775]]],["y",[[.45,775,782],[1,775,782]]],
 ["g",[[.4,782,792],[1,782,792]]],["y",[[.39,792,799],[1,792,799]]],
 ["w",[[.39,799,808],[1,799,808]]],
 ["y",[[.39,796,797],[1,796,797]]],
 ["r",[[.4,807,809],[1,807,809]]],
 ["y",[[.4,809,811],[1,809,811]]],
 ["g",[[.41,811,820],[1,811,820]]],
 ["b",[[.5,833,836],[.8,830,836],[1,830,836]]],
 ["r",[[.8,835.5,838],[1,835.5,840]]],["y",[[.85,833,836],[1,833,836]]]
];

var panelYpX = [
 ["n",[[0,479,737],[1,479,737]]],
 ["y",[[0,380,385],[.3,380,387],[1,380,390]]],
 ["g",[[0,385,416],[.3,387,422],[1,390,423]]],
 ["b",[[0,416,479],[.3,422,479],[1,423,479]]],
 ["b",[[0,578,584],[.5,581,586],[1,580,586]]],
 ["R",[[0,580,3],[.5,583,3],[1,584,3]]],
 ["b",[[0,605,640],[1,605,640]]],
 ["R",[[0,606,2.5],[1,606,2.5]]],
 ["g",[[0,617,631],[1,617,633]]],
 ["y",[[0,619,634],[.4,622,630],[.6,624,628],[.85,625,626]]],
 ["o",[[0,620,632],[.3,623,629]]],
 ["r",[[0,622,634],[.12,624,630]]],
 ["W",[[0,632,5],[.1,633,5]]],
 ["R",[[.1,630,2],[1,637,2]]],
 ["R",[[0,674,1.5],[1,675,1.5]]],
 ["W",[[0,681,7],[1,681,7]]],
 ["R",[[0,682,1.5],[1,680,1.5]]],
 ["R",[[0,738,2],[1,738,2]]],
 ["p",[[0,769,772],[1,768,772]]],
 ["r",[[0,772,775],[.5,770,775],[1,770,775]]],
 ["y",[[0,775,781],[1,775,781]]],
 ["g",[[0,781,792],[1,781,796]]],
 ["y",[[0,792,799],[1,796,799]]],
 ["r",[[0,799,800],[1,799,800]]],
 ["r",[[0,808,810],[1,808,810]]],["g",[[0,810,815],[1,810,815]]],
 ["b",[[0,815,820],[1,815,820]]],
 ["n",[[0,820,828],[1,820,828]]],
 ["b",[[0,828,831],[1,828,831]]],["g",[[0,831,833],[1,831,833]]],["y",[[0,833,835],[1,833,835]]],["r",[[0,835,837],[1,835,837]]],
 ["p",[[.03,866,892],[1,866,892]]],
 ["K",[[0,868,886],[.06,868,886]],[[868,170],[885,190]]],
 ["r",[[.06,870,884],[.5,870,885],[1,869,885]]]
];

var panelYpS = [
 ["n",[[0,481,732],[1,481,714]]],
 ["K",[[0,712,742],[1,712,742]],[[712,10],[730,15],[738,40],[742,250]]],
 ["b",[[0,380,431],[1,380,436]]],
 ["g",[[0,380,400],[.2,380,410],[.5,380,425],[.75,380,432],[1,380,436]]],
 ["y",[[.3,380,382],[.5,380,390],[.75,380,400],[1,380,416]]],
 ["o",[[.6,380,381],[.85,380,388],[1,380,392]]],
 ["r",[[.75,380,382],[1,380,387]]],
 ["d",[[0,431,445],[.5,433,445],[1,436,445]]],
 ["b",[[0,445,481],[1,445,481]]],
 ["R",[[0,584,4],[.5,580,3],[1,577,2.5]]],
 ["R",[[0,605,2],[.5,608,1.5],[1,609,2]]],
 ["b",[[0,612,646],[.3,612,643],[.6,612,641],[1,612,640]]],
 ["n",[[0,612,615],[.28,613,615]]],
 ["g",[[.2,622,628],[.4,620,634],[.7,613,640],[1,611,637]]],
 ["y",[[.4,620,630],[.55,618,636],[1,611,636]]],
 ["o",[[.47,622,630],[.6,620,636],[1,612,636]]],
 ["r",[[.5,621,632],[.7,616,638],[1,612,635]]],
 ["w",[[.55,624,630],[.7,617,634],[.95,615,630],[1,617,628]]],
 ["R",[[.05,643,1.5],[.4,636,1.5],[.9,634,1.5]]],
 ["W",[[0,680,5],[1,680,6]]],
 ["F",[[-.2,762,800],[.5,768,800],[1.3,778,798]],[[762,250],[772,140],[785,70],[795,70],[800,250]]],
 ["K",[[0,808,836],[1,808,836]],[[808,230],[812,60],[820,20],[830,25],[836,240]]],
 ["F",[[-.2,852,895],[.3,856,895],[.6,866,888],[.85,876,880]],[[852,250],[860,190],[875,120],[890,170],[897,220]]]
];

var panels = [panelCmX,panelCmY,panelCmS,panelCpX,panelCpY,panelCpS,panelXmC,panelXmY,panelXmS,
              panelXpC,panelXpY,panelXpS,panelYmC,panelYmX,panelYmS,panelYpC,panelYpX,panelYpS];

//Global GraphSettings---------------------------------------------------
var svgScreen = { width: 2389, height: 3314 };
var frame = { left: 51, right: 2346, top: 41, bottom: 3125, col1: 183, col2: 516 };
var panelH = (frame.bottom - frame.top) / panels.length;

var bandColors = { n:"#000050", b:"#00a5ff", g:"#00ff00", y:"#ffd700", o:"#ff8c00", r:"#ff0000", w:"#ffffff", p:"#eebbbb", d:"#333333" };
var ridgeLevels = [["b",1],["g",.75],["y",.6],["r",.45],["w",.28]];
var wideLevels = [["b",1],["g",.9],["y",.8],["r",.7],["w",.55]];

var xScale = d3.scaleLinear().domain([400,900]).range([585,2289]);
//-----------------------------------------------------------------------

var svg = d3.select("#chart-section").append("svg")
  .attr("width", svgScreen.width)
  .attr("height", svgScreen.height)
  .style("display", "block");

var defs = svg.append("defs");
defs.append("filter").attr("id","softEdge").attr("x","-20%").attr("y","-40%").attr("width","140%").attr("height","180%")
  .append("feGaussianBlur").attr("stdDeviation","2.5 3");
defs.append("filter").attr("id","softFade").attr("x","-30%").attr("y","-60%").attr("width","160%").attr("height","220%")
  .append("feGaussianBlur").attr("stdDeviation","7 14");

var gradCount = 0;
var drawPanel = function(shapes, i){
  var top = frame.top + i * panelH;
  var yScale = d3.scaleLinear().domain([0,1]).range([top, top + panelH]);
  var area = d3.area().curve(d3.curveMonotoneY)
    .y(function(r){return yScale(r[0])}).x0(function(r){return xScale(r[1])}).x1(function(r){return xScale(r[2])});

  defs.append("clipPath").attr("id","clip"+i).append("rect")
    .attr("x", frame.col2).attr("y", top).attr("width", frame.right - frame.col2).attr("height", panelH);

  var g = svg.append("g").attr("class","panel").attr("clip-path","url(#clip"+i+")");

  shapes.forEach(function(s){
    var key = s[0], rows = s[1];
    if (key === "K" || key === "F"){
      var id = "grey" + (gradCount++);
      var grad = defs.append("linearGradient").attr("id",id).attr("gradientUnits","userSpaceOnUse")
        .attr("x1", xScale(s[2][0][0])).attr("x2", xScale(s[2][s[2].length-1][0])).attr("y1",0).attr("y2",0);
      var span = s[2][s[2].length-1][0] - s[2][0][0];
      s[2].forEach(function(st){
        grad.append("stop").attr("offset",(st[0]-s[2][0][0])/span).attr("stop-color",d3.rgb(st[1],st[1],st[1]));
      });
      g.append("path").attr("d",area(rows)).attr("fill","url(#"+id+")")
        .attr("filter", key === "K" ? "url(#softEdge)" : "url(#softFade)");
    } else if (key === "R" || key === "W"){
      (key === "R" ? ridgeLevels : wideLevels).forEach(function(lv){
        var scaled = rows.map(function(r){return [r[0], r[1]-r[2]*lv[1], r[1]+r[2]*lv[1]]});
        g.append("path").attr("d",area(scaled)).attr("fill",bandColors[lv[0]]);
      });
    } else {
      g.append("path").attr("d",area(rows)).attr("fill",bandColors[key]);
    }
  });

  // row labels
  svg.append("text").attr("x",128).attr("y",yScale(.49)).attr("dy","0.36em")
    .attr("text-anchor","middle").attr("font-family","Liberation Sans").attr("font-weight","bold")
    .attr("font-size",43).attr("fill","#111").text(groupLabels[i]);

  var label = svg.append("text").attr("x",197).attr("y",yScale(.46)).attr("dy","0.36em")
    .attr("font-family","Liberation Sans").attr("font-size",47.5).attr("fill","#222");
  label.append("tspan").text(varNames[i]);
  label.append("tspan").attr("dy",-17).attr("font-size",29).text(varPowers[i]);
  label.append("tspan").attr("dy",17).text("]");

  [[tickHigh[i],.15],[tickLow[i],.78]].forEach(function(t){
    svg.append("text").attr("x",502).attr("y",yScale(t[1])).attr("dy","0.36em").attr("text-anchor","end")
      .attr("font-family","Liberation Sans").attr("font-size",46).attr("fill","#222").text(t[0]);
  });
};

panels.forEach(drawPanel);

// separators and frame
d3.range(1, panels.length).forEach(function(i){
  var y = frame.top + i * panelH;
  svg.append("line").attr("x1",frame.col2).attr("x2",frame.right).attr("y1",y-3).attr("y2",y-3)
    .attr("stroke","#ccc").attr("stroke-width",2);
  svg.append("line").attr("x1",frame.left).attr("x2",frame.right).attr("y1",y).attr("y2",y)
    .attr("stroke","#333").attr("stroke-width",3);
});
svg.append("rect").attr("x",frame.left).attr("y",frame.top)
  .attr("width",frame.right-frame.left).attr("height",frame.bottom-frame.top)
  .attr("fill","none").attr("stroke","#333").attr("stroke-width",3);
[frame.col1, frame.col2].forEach(function(x){
  svg.append("line").attr("x1",x).attr("x2",x).attr("y1",frame.top).attr("y2",frame.bottom)
    .attr("stroke","#222").attr("stroke-width",3);
});

// wavelength axis
var xAxis = d3.axisBottom(xScale).tickValues(wavelengthTicks).tickSize(35).tickPadding(16).tickFormat(d3.format("d"));
var axisG = svg.append("g").attr("class","x-axis").attr("transform","translate(0,"+frame.bottom+")").call(xAxis);
axisG.select(".domain").remove();
axisG.selectAll("line").attr("stroke","#333").attr("stroke-width",3);
axisG.selectAll("text").attr("font-family","Liberation Serif").attr("font-size",56).attr("fill","#111")
  .attr("dx",function(d,i){return tickLabelShift[i]});

svg.append("text").attr("x",1316).attr("y",3268).attr("dy","0.33em").attr("text-anchor","middle")
  .attr("font-family","Liberation Serif").attr("font-size",56).attr("fill","#111").text("Wavelength [nm]");
</script>
</body>
</html>
